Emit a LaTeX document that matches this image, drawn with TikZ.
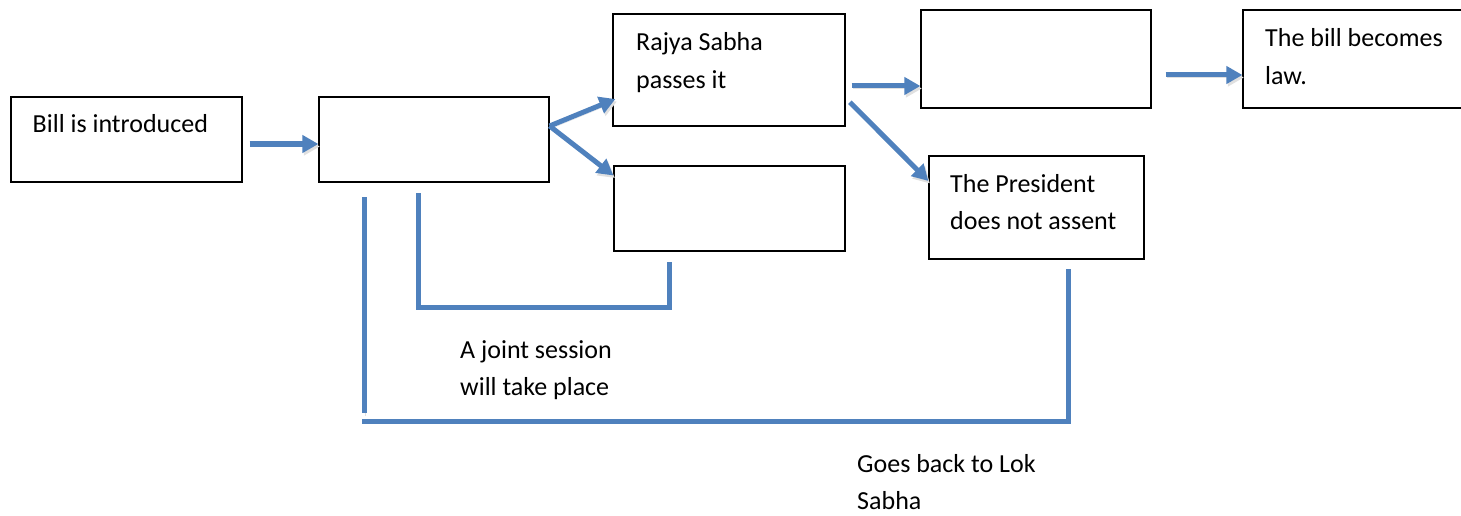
\documentclass[tikz,border=0pt]{standalone}
\usepackage{fontspec}
\setmainfont{Carlito}
\usetikzlibrary{arrows.meta}
\definecolor{flowblue}{HTML}{4F81BD}
\tikzset{
  box/.style={draw,line width=1.2pt,inner sep=0pt},
  shade line/.style={preaction={draw,black!12,transform canvas={shift={(1.5pt,-2.5pt)}}}},
  flow/.style={flowblue,line width=5pt,shade line,-{Triangle[length=16pt,width=17pt]}},
  link/.style={flowblue,line width=5pt,shade line},
  txt/.style={anchor=base west,inner sep=0pt,font=\fontsize{26}{37.5}\selectfont}
}
\newcommand{\twolines}[2]{\vtop{\baselineskip=37.5pt\hbox{#1}\hbox{#2}}}

\begin{document}
\begin{tikzpicture}[x=1pt,y=-1pt]
  \clip (0,0) rectangle (1461,516);
  \fill[white] (0,0) rectangle (1461,516);
  % boxes
  \node[box,minimum width=231pt,minimum height=85pt] (intro) at (126.5,139.5) {};
  \node[box,minimum width=230pt,minimum height=85pt] (ls) at (434,139.5) {};
  \node[box,minimum width=232pt,minimum height=112pt] (rs) at (729,70) {};
  \node[box,minimum width=231pt,minimum height=85pt] (rsfail) at (729.5,208.5) {};
  \node[box,minimum width=230pt,minimum height=98pt] (pres) at (1036,59) {};
  \node[box,minimum width=240pt,minimum height=98pt] (law) at (1363,59) {};
  \node[box,minimum width=215pt,minimum height=103pt] (noassent) at (1036.5,207.5) {};
  % texts
  \node[txt] (introtxt) at (32.5,132) {Bill is introduced};
  \node[txt] (rstxt) at (636,51) {\twolines{Rajya Sabha}{passes it}};
  \node[txt] (lawtxt) at (1265,47) {\twolines{The bill becomes}{law.}};
  \node[txt] (natxt) at (950,192) {\twolines{The President}{does not assent}};
  \node[txt] (jstxt) at (460,358) {\twolines{A joint session}{will take place}};
  \node[txt] (bktxt) at (857,472) {\twolines{Goes back to Lok}{Sabha}};
  % arrows
  \draw[flow,shorten <=7pt] ([yshift=-4.5pt]intro.east) -- ([yshift=-4.5pt]ls.west);
  \draw[flow] ([yshift=13.5pt]ls.east) -- ([xshift=3pt,yshift=-29pt]rs.west);
  \draw[flow] ([yshift=13.5pt]ls.east) -- ([yshift=33pt]rsfail.west);
  \draw[flow,shorten <=6pt] ([yshift=-16pt]rs.east) -- ([yshift=-27pt]pres.west);
  \draw[flow,shorten <=6pt] ([yshift=-28pt]rs.east) -- ([yshift=26.5pt]noassent.west);
  \draw[flow,shorten <=14pt] ([yshift=-16pt]pres.east) -- ([yshift=-16pt]law.west);
  % brackets
  \coordinate (js1) at (418,193);
  \coordinate (js2) at (669,262);
  \draw[link] (js1) -- (418,307) -- (669,307) -- (js2);
  \coordinate (bk1) at (364,197);
  \coordinate (bk2) at (1068,269);
  \draw[link] (bk1) -- (364,413);
  \draw[link] (362,421) -- (1068,421) -- (bk2);
\end{tikzpicture}
\end{document}
